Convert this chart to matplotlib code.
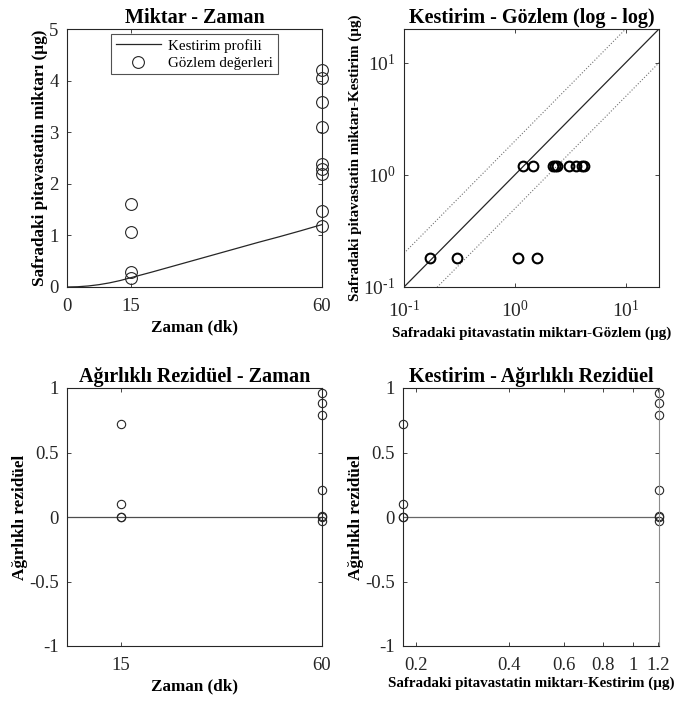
import numpy as np
import matplotlib
matplotlib.use("Agg")
import matplotlib.pyplot as plt
from matplotlib.ticker import FixedLocator, FixedFormatter, NullLocator

plt.rcParams['font.family'] = ['Liberation Serif', 'DejaVu Serif']
plt.rcParams['mathtext.fontset'] = 'custom'
plt.rcParams['mathtext.rm'] = 'Liberation Serif'
plt.rcParams['mathtext.it'] = 'Liberation Serif'
plt.rcParams['mathtext.default'] = 'rm'
plt.rcParams['axes.unicode_minus'] = False

# Sampling times (min)
times = [15, 60]

# Observed biliary amounts (µg)
obs_15 = [1.60, 1.06, 0.30, 0.17]
obs_60 = [4.21, 4.06, 3.58, 3.10, 2.38, 2.29, 2.19, 1.47, 1.18]

# Model predictions at the sampling times (µg)
pred_15 = 0.182
pred_60 = 1.21

# Predicted profile
profile_t = [0, 2.5, 5, 7.5, 10, 12.5, 15, 20, 25, 30, 35, 40, 45, 50, 55, 60]
profile_y = [0, 0.005, 0.02, 0.045, 0.08, 0.125, 0.18, 0.29, 0.405, 0.52,
             0.635, 0.75, 0.865, 0.975, 1.09, 1.21]

# Weighted residuals
res_15 = [0.72, 0.10, 0.0, 0.0]
res_60 = [0.96, 0.88, 0.79, 0.21, 0.01, 0.0, -0.03]

DARK = '#262626'
W, H = 678, 702
fig = plt.figure(figsize=(W / 100, H / 100), dpi=100)

TITLE_FS = 14.5
LABEL_FS = 12.3
SMALL_LABEL_FS = 10.8
TICK_FS = 13.5


def box(l, t, r, b):
    return [l / W, 1 - b / H, (r - l) / W, (b - t) / H]


def style(ax):
    for s in ax.spines.values():
        s.set_color(DARK)
        s.set_linewidth(0.8)
    ax.tick_params(direction='in', length=3, width=0.6, colors=DARK,
                   labelcolor=DARK, labelsize=TICK_FS, top=True, right=True,
                   which='both')
    ax.tick_params(axis='x', pad=8)
    ax.tick_params(axis='y', pad=6)


# Amount vs time
ax1 = fig.add_axes(box(67, 29, 322, 287))
style(ax1)
ax1.plot(profile_t, profile_y, color=DARK, lw=0.9, label='Kestirim profili')
t_obs = [times[0]] * len(obs_15) + [times[1]] * len(obs_60)
ax1.plot(t_obs, obs_15 + obs_60, 'o', ms=8.5, mfc='none', mec=DARK, mew=0.8,
         clip_on=False, label='Gözlem değerleri')
ax1.set_xlim(0, 60)
ax1.set_ylim(0, 5)
ax1.set_xticks([0, 15, 60])
ax1.set_yticks([0, 1, 2, 3, 4, 5])
ax1.set_title('Miktar - Zaman', fontsize=TITLE_FS, fontweight='bold', pad=4)
ax1.set_xlabel('Zaman (dk)', fontsize=LABEL_FS, fontweight='bold', labelpad=3)
ax1.set_ylabel('Safradaki pitavastatin miktarı (µg)', fontsize=LABEL_FS,
               fontweight='bold', labelpad=1)
leg = ax1.legend(loc='upper center', fontsize=10.8, fancybox=False,
                 frameon=True, handlelength=3.0, borderaxespad=0.35,
                 borderpad=0.3, labelspacing=0.25, handletextpad=0.5)
leg.get_frame().set_edgecolor(DARK)
leg.get_frame().set_linewidth(0.8)

# Predicted vs observed (log-log)
ax2 = fig.add_axes(box(404, 29, 659, 287))
style(ax2)
ax2.set_xscale('log')
ax2.set_yscale('log')
lims = [0.1, 20]
ax2.plot(lims, lims, color=DARK, lw=0.9)
ax2.plot(lims, [2 * v for v in lims], ':', color='0.45', lw=0.8)
ax2.plot(lims, [v / 2 for v in lims], ':', color='0.45', lw=0.8)
p_obs = [pred_15] * len(obs_15) + [pred_60] * len(obs_60)
ax2.plot(obs_15 + obs_60, p_obs, 'o', ms=7, mfc='none', mec='black', mew=1.5)
ax2.set_xlim(lims)
ax2.set_ylim(lims)
decade_labels = [r'$10^{\text{-}1}$', r'$10^{0}$', r'$10^{1}$']
for axis in (ax2.xaxis, ax2.yaxis):
    axis.set_major_locator(FixedLocator([0.1, 1, 10]))
    axis.set_major_formatter(FixedFormatter(decade_labels))
    axis.set_minor_locator(NullLocator())
ax2.tick_params(labelsize=14)
ax2.tick_params(axis='x', pad=9)
ax2.set_title('Kestirim - Gözlem (log - log)', fontsize=TITLE_FS,
              fontweight='bold', pad=4)
ax2.set_xlabel('Safradaki pitavastatin miktarı-Gözlem (µg)',
               fontsize=SMALL_LABEL_FS, fontweight='bold', labelpad=4)
ax2.set_ylabel('Safradaki pitavastatin miktarı-Kestirim (µg)',
               fontsize=SMALL_LABEL_FS, fontweight='bold', labelpad=1)

# Weighted residuals vs time
ax3 = fig.add_axes(box(67, 388, 322, 646))
style(ax3)
ax3.axhline(0, color='0.3', lw=0.9)
r_t = [times[0]] * len(res_15) + [times[1]] * len(res_60)
ax3.plot(r_t, res_15 + res_60, 'o', ms=6, mfc='none', mec=DARK, mew=0.8,
         clip_on=False)
ax3.set_xlim(2.85, 60)
ax3.set_ylim(-1, 1)
ax3.set_xticks([15, 60])
ax3.set_yticks([-1, -0.5, 0, 0.5, 1])
ax3.set_yticklabels(['-1', '-0.5', '0', '0.5', '1'])
ax3.set_title('Ağırlıklı Rezidüel - Zaman', fontsize=TITLE_FS,
              fontweight='bold', pad=4)
ax3.set_xlabel('Zaman (dk)', fontsize=LABEL_FS, fontweight='bold', labelpad=3)
ax3.set_ylabel('Ağırlıklı rezidüel', fontsize=LABEL_FS, fontweight='bold',
               labelpad=1)

# Weighted residuals vs prediction
ax4 = fig.add_axes(box(403, 388, 659, 646))
style(ax4)
ax4.set_xscale('log')
ax4.axhline(0, color='0.4', lw=0.9)
r_p = [pred_15] * len(res_15) + [pred_60] * len(res_60)
ax4.plot(r_p, res_15 + res_60, 'o', ms=6, mfc='none', mec=DARK, mew=0.8,
         clip_on=False)
ax4.set_xlim(pred_15, pred_60)
ax4.set_ylim(-1, 1)
ax4.xaxis.set_major_locator(FixedLocator([0.2, 0.4, 0.6, 0.8, 1, 1.2]))
ax4.xaxis.set_major_formatter(FixedFormatter(['0.2', '0.4', '0.6', '0.8', '1', '1.2']))
ax4.xaxis.set_minor_locator(NullLocator())
ax4.set_yticks([-1, -0.5, 0, 0.5, 1])
ax4.set_yticklabels(['-1', '-0.5', '0', '0.5', '1'])
ax4.spines['right'].set_color('0.55')
ax4.set_title('Kestirim - Ağırlıklı Rezidüel', fontsize=TITLE_FS,
              fontweight='bold', pad=4)
ax4.set_xlabel('Safradaki pitavastatin miktarı-Kestirim (µg)',
               fontsize=SMALL_LABEL_FS, fontweight='bold', labelpad=2)
ax4.set_ylabel('Ağırlıklı rezidüel', fontsize=LABEL_FS, fontweight='bold',
               labelpad=1)

fig.savefig('out.png', dpi=100, facecolor='white')
